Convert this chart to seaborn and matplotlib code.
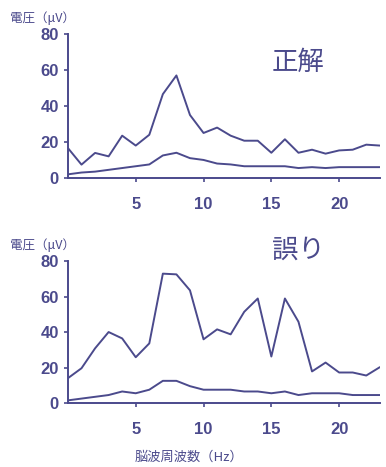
import numpy as np
import pandas as pd
import matplotlib
matplotlib.use("Agg")
import matplotlib.pyplot as plt
import seaborn as sns

sns.set_style("white")
plt.rcParams["font.family"] = ["Noto Sans CJK JP", "DejaVu Sans"]

# ── data ────────────────────────────────────────────────────
hz = list(range(0, 24))

correct_upper = [16.6, 7.4, 13.9, 12, 23.5, 18, 24, 46.6, 57, 35, 25, 28,
                 23.5, 20.7, 20.7, 14, 21.5, 14, 15.7, 13.5, 15.3, 15.7, 18.5, 18]
correct_lower = [2, 3, 3.5, 4.5, 5.5, 6.5, 7.5, 12.5, 14, 11, 10, 8,
                 7.5, 6.5, 6.5, 6.5, 6.5, 5.5, 6, 5.5, 6, 6, 6, 6]

wrong_upper = [14, 19.6, 30.8, 40, 36.4, 25.8, 33.6, 72.9, 72.5, 63.5, 35.9, 41.5,
               38.7, 51.4, 58.9, 26.2, 58.9, 45.8, 17.8, 22.8, 17.2, 17.2, 15.5, 20.2]
wrong_lower = [1.5, 2.5, 3.5, 4.5, 6.5, 5.5, 7.5, 12.5, 12.5, 9.5, 7.5, 7.5,
               7.5, 6.5, 6.5, 5.5, 6.5, 4.5, 5.5, 5.5, 5.5, 4.5, 4.5, 4.5]

titles = ["正解", "誤り"]
y_ticks = [0, 20, 40, 60, 80]
x_ticks = [5, 10, 15, 20]

COLOR = "#4b4a8c"

fig = plt.figure(figsize=(3.86, 4.67), dpi=100)
ax_top = fig.add_axes([0.176, 0.619, 0.808, 0.308])
ax_bot = fig.add_axes([0.176, 0.137, 0.808, 0.304])

# title positions in figure fractions (label above each panel)
panels = [(ax_top, correct_upper, correct_lower, titles[0], 0.867, 0.962),
          (ax_bot, wrong_upper, wrong_lower, titles[1], 0.465, 0.475)]

for ax, upper, lower, title, title_y, ylab_y in panels:
    df = pd.DataFrame({"hz": hz, "upper": upper, "lower": lower})
    sns.lineplot(data=df, x="hz", y="upper", ax=ax, color=COLOR, linewidth=1.4)
    sns.lineplot(data=df, x="hz", y="lower", ax=ax, color=COLOR, linewidth=1.4)
    ax.set_xlim(0, 23)
    ax.set_ylim(0, 80)
    ax.set_xticks(x_ticks)
    ax.set_yticks(y_ticks)
    ax.set_xlabel("")
    ax.set_ylabel("")
    for lab in ax.get_xticklabels() + ax.get_yticklabels():
        lab.set_family("Liberation Sans")
        lab.set_fontweight("bold")
        lab.set_fontsize(12)
        lab.set_color(COLOR)
    ax.tick_params(axis="both", length=3, width=1.2, colors=COLOR,
                   direction="out", left=True, bottom=True)
    ax.tick_params(axis="x", pad=11)
    for side in ["top", "right"]:
        ax.spines[side].set_visible(False)
    for side in ["left", "bottom"]:
        ax.spines[side].set_color(COLOR)
        ax.spines[side].set_linewidth(1.4)
    fig.text(0.772, title_y, title, fontsize=19, color=COLOR,
             ha="center", va="center")
    fig.text(0.025, ylab_y, "電圧（μV）", fontsize=9, color=COLOR,
             ha="left", va="center")

fig.text(0.49, 0.021, "脳波周波数（Hz）", fontsize=9.5, color=COLOR,
         ha="center", va="center")

fig.savefig("out.png", dpi=100, facecolor="white")
